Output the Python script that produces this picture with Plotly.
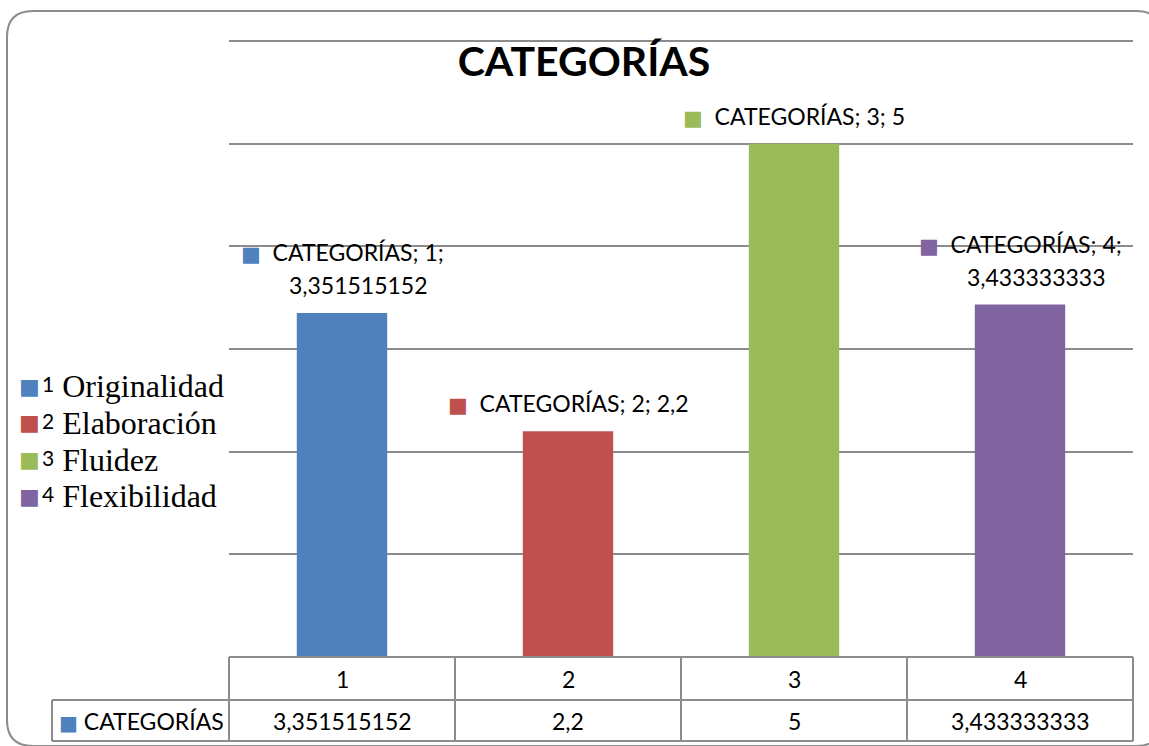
import plotly.graph_objects as go

# ---------------- data ----------------
categories = ["1", "2", "3", "4"]
category_names = ["Originalidad", "Elaboración", "Fluidez", "Flexibilidad"]
values = [3.351515152, 2.2, 5, 3.433333333]
series_name = "CATEGORÍAS"
title_text = "CATEGORÍAS"

# ---------------- style ----------------
colors = ["#4F81BD", "#C0504D", "#9BBB59", "#8064A2"]
GRID = "#8c8c8c"
SANS = "Lato"
SERIF = "Liberation Serif"
FS = 23
W, H = 1149, 746
ML, MR, MT, MB = 229, 16, 41, 89
PW = W - ML - MR
PH = H - MT - MB


def px(xp):
    return (xp - ML) / PW


def py(yp):
    return (H - MB - yp) / PH


def fmt(v):
    return str(v).replace(".", ",")


def sq(color, size=21):
    return f'<span style="color:{color};font-family:DejaVu Sans;font-size:{size}px">■</span>'


def sm(t):
    return f'<span style="font-size:{FS}px">{t}</span>'


fig = go.Figure()
for i, (c, n, v, col) in enumerate(zip(categories, category_names, values, colors)):
    fig.add_trace(go.Bar(
        x=[i], y=[v], width=0.4,
        marker=dict(color=col, line=dict(width=0)),
        name=f"{c} {n}", showlegend=False,
        hoverinfo="skip",
    ))

annotations = []
# legend (drawn as text so it does not push the plot margins)
LEG_TOP, LEG_STEP = 386, 36.8
for k, (c, n, col) in enumerate(zip(categories, category_names, colors)):
    yc = py(LEG_TOP + k * LEG_STEP)
    annotations.append(dict(
        x=px(17), y=yc, xref="paper", yref="paper", text=sq(col, 22), showarrow=False,
        xanchor="left", yanchor="middle", font=dict(family="DejaVu Sans", size=22),
    ))
    annotations.append(dict(
        x=px(40), y=yc, xref="paper", yref="paper", showarrow=False,
        text=(f'<span style="font-family:{SANS};font-size:21px;baseline-shift:5px">{c}</span>'
              f'<span style="font-size:32px"> {n}</span>'),
        xanchor="left", yanchor="middle", font=dict(family=SERIF, size=26, color="black"),
    ))

# data labels
for i, (c, v, col) in enumerate(zip(categories, values, colors)):
    val = fmt(v)
    if len(val) > 4:
        txt = (f"{sq(col)}{sm('&#160; ' + series_name + '; ' + c + ';')}<br>"
               f"{sq('rgba(0,0,0,0)')}{sm('&#160; ' + val)}")
        big = 25.5
    else:
        txt = f"{sq(col)}{sm('&#160; ' + series_name + '; ' + c + '; ' + val)}"
        big = FS
    annotations.append(dict(
        x=i, y=v, xref="x", yref="y", text=txt, showarrow=False,
        xanchor="center", yanchor="bottom", yshift=12,
        font=dict(family=SANS, size=big, color="black"), align="center",
    ))

# data table text
for i, (c, v) in enumerate(zip(categories, values)):
    annotations.append(dict(
        x=i, y=py(679), xref="x", yref="paper", text=c, showarrow=False,
        xanchor="center", yanchor="middle",
        font=dict(family=SANS, size=FS, color="black"),
    ))
    annotations.append(dict(
        x=i, y=py(721), xref="x", yref="paper", text=fmt(v), showarrow=False,
        xanchor="center", yanchor="middle",
        font=dict(family=SANS, size=FS, color="black"),
    ))
annotations.append(dict(
    x=px(57), y=py(721), xref="paper", yref="paper",
    text=f"{sq(colors[0], 20)} {series_name}", showarrow=False,
    xanchor="left", yanchor="middle",
    font=dict(family=SANS, size=FS, color="black"),
))

# table lines
shapes = []
line = dict(color=GRID, width=2)
n = len(categories)
shapes.append(dict(type="line", xref="paper", yref="paper", x0=0, x1=1, y0=py(657), y1=py(657), line=line))
shapes.append(dict(type="line", xref="paper", yref="paper", x0=0, x1=1, y0=py(41), y1=py(41), line=line))
for yy in (700, 741):
    shapes.append(dict(type="line", xref="paper", yref="paper", x0=px(52), x1=1, y0=py(yy), y1=py(yy), line=line))
for k in range(n + 1):
    shapes.append(dict(type="line", xref="paper", yref="paper", x0=k / n, x1=k / n, y0=py(657), y1=py(741), line=line))
shapes.append(dict(type="line", xref="paper", yref="paper", x0=px(52), x1=px(52), y0=py(700), y1=py(741), line=line))

# rounded outer border (partly cut off at right/bottom like the original)
L, R, T, B = px(7), px(1162), py(11), py(746)
rx, ry = 26 / PW, 26 / PH
path = (f"M {L+rx},{T} L {R-rx},{T} Q {R},{T} {R},{T-ry} L {R},{B+ry} Q {R},{B} {R-rx},{B} "
        f"L {L+rx},{B} Q {L},{B} {L},{B+ry} L {L},{T-ry} Q {L},{T} {L+rx},{T} Z")
shapes.append(dict(type="path", xref="paper", yref="paper", path=path,
                   line=dict(color=GRID, width=2), fillcolor="rgba(0,0,0,0)", layer="below"))

fig.update_layout(
    width=W, height=H, autosize=False,
    margin=dict(l=ML, r=MR, t=MT, b=MB, pad=0),
    paper_bgcolor="white", plot_bgcolor="white",
    barmode="overlay",
    showlegend=False,
    title=dict(text=f"<b>{title_text}</b>", x=584 / W, xref="container", xanchor="center",
               y=1 - 62 / H, yref="container", yanchor="middle",
               font=dict(family=SANS, size=41, color="black")),
    xaxis=dict(range=[-0.5, n - 0.5], showticklabels=False, showgrid=False,
               zeroline=False, showline=False, fixedrange=True),
    yaxis=dict(range=[0, 6], dtick=1, tick0=0, showticklabels=False, showgrid=True,
               gridcolor=GRID, gridwidth=2, zeroline=False, showline=False, fixedrange=True),
    annotations=annotations,
    shapes=shapes,
)

fig.write_html("out.html")
